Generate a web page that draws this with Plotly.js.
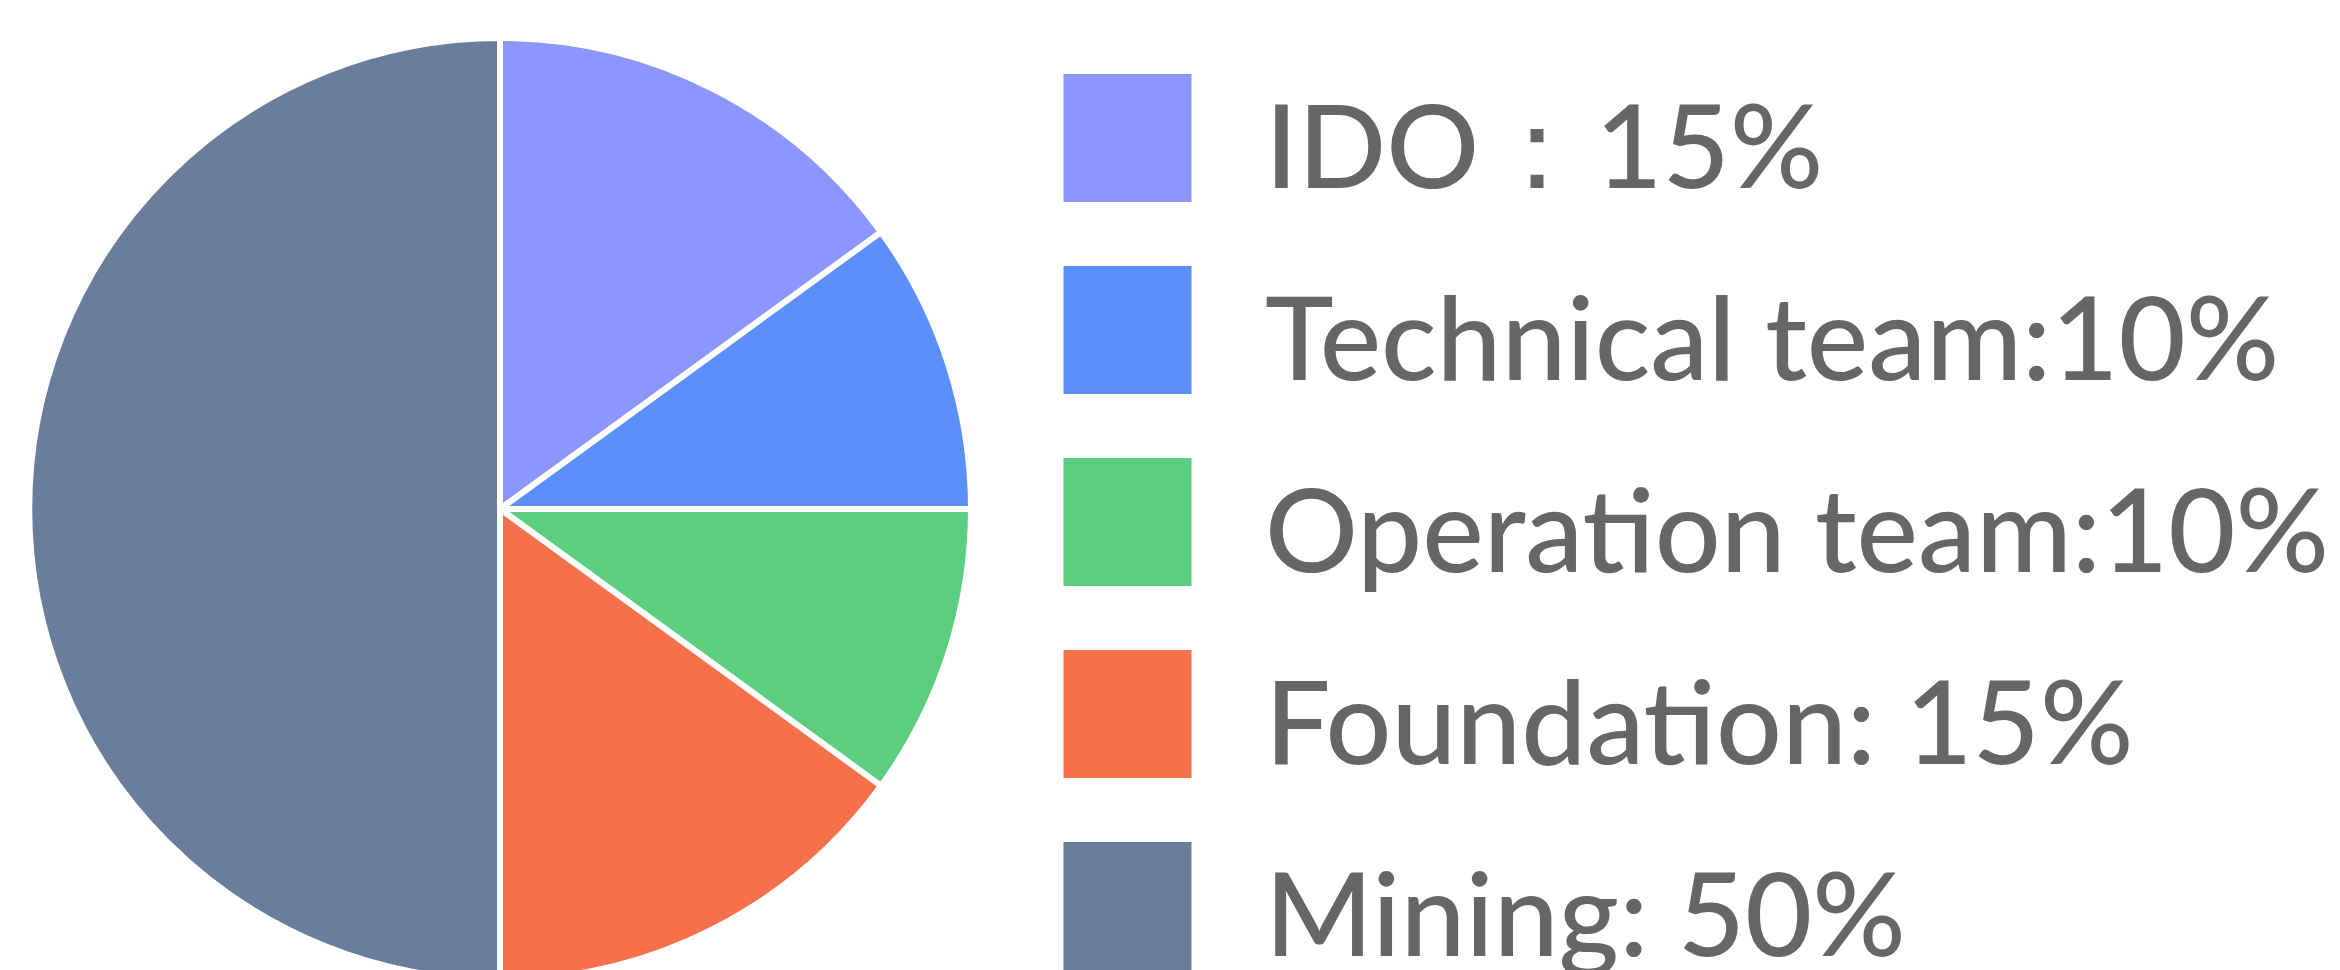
<!DOCTYPE html>
<html>
<head>
<meta charset="utf-8">
<script src="https://cdn.plot.ly/plotly-3.0.1.min.js"></script>
<style>
html, body { margin: 0; padding: 0; overflow: hidden; background: #ffffff; }
#chart { width: 2340px; height: 1018px; }
</style>
</head>
<body>
<div id="chart"></div>
<script>
// Data
const categories = ["IDO", "Technical team", "Operation team", "Foundation", "Mining"];
const shares = [15, 10, 10, 15, 50];
const legendLabels = ["IDO：15%", "Technical team:10%", "Operation team:10%", "Foundation: 15%", "Mining: 50%"];
const sliceColors = ["#8D95FF", "#5B8FF9", "#5BCE80", "#F6714B", "#6A7D9B"];

const idx = categories.map((_, i) => i);

const pieTrace = {
  type: "pie",
  labels: categories,
  values: shares,
  sort: false,
  direction: "clockwise",
  rotation: 0,
  textinfo: "none",
  hoverinfo: "none",
  marker: { colors: sliceColors, line: { color: "#ffffff", width: 6 } },
  domain: { x: [0.012393, 0.414957], y: [0.03733, 0.96267] },
  showlegend: false
};

const swatchTrace = {
  type: "scatter",
  mode: "markers",
  x: idx.map(() => 0),
  y: idx,
  marker: { symbol: "square", size: 128, color: sliceColors, line: { width: 0 } },
  cliponaxis: false,
  hoverinfo: "skip",
  showlegend: false,
  xaxis: "x",
  yaxis: "y"
};

const labelTrace = {
  type: "scatter",
  mode: "text",
  x: idx.map(() => 1),
  y: idx,
  text: legendLabels,
  textposition: "middle right",
  textfont: { family: "Lato, 'Noto Sans', sans-serif", size: 116, color: "#666666", weight: 500 },
  cliponaxis: false,
  hoverinfo: "skip",
  showlegend: false,
  xaxis: "x",
  yaxis: "y2"
};

const layout = {
  width: 2340,
  height: 1018,
  margin: { l: 0, r: 0, t: 0, b: 0, pad: 0 },
  paper_bgcolor: "#ffffff",
  plot_bgcolor: "rgba(0,0,0,0)",
  showlegend: false,
  hovermode: false,
  xaxis: { domain: [0.452457, 0.569979], range: [-0.5, 1.5], visible: false, fixedrange: true },
  yaxis: { domain: [0.015717, 0.95874], range: [4.5, -0.5], visible: false, fixedrange: true },
  yaxis2: { domain: [0.015717, 0.95874], range: [4.391, -0.609], visible: false, fixedrange: true, anchor: "x" }
};

Plotly.newPlot("chart", [pieTrace, swatchTrace, labelTrace], layout, { displayModeBar: false, staticPlot: true });
</script>
</body>
</html>
